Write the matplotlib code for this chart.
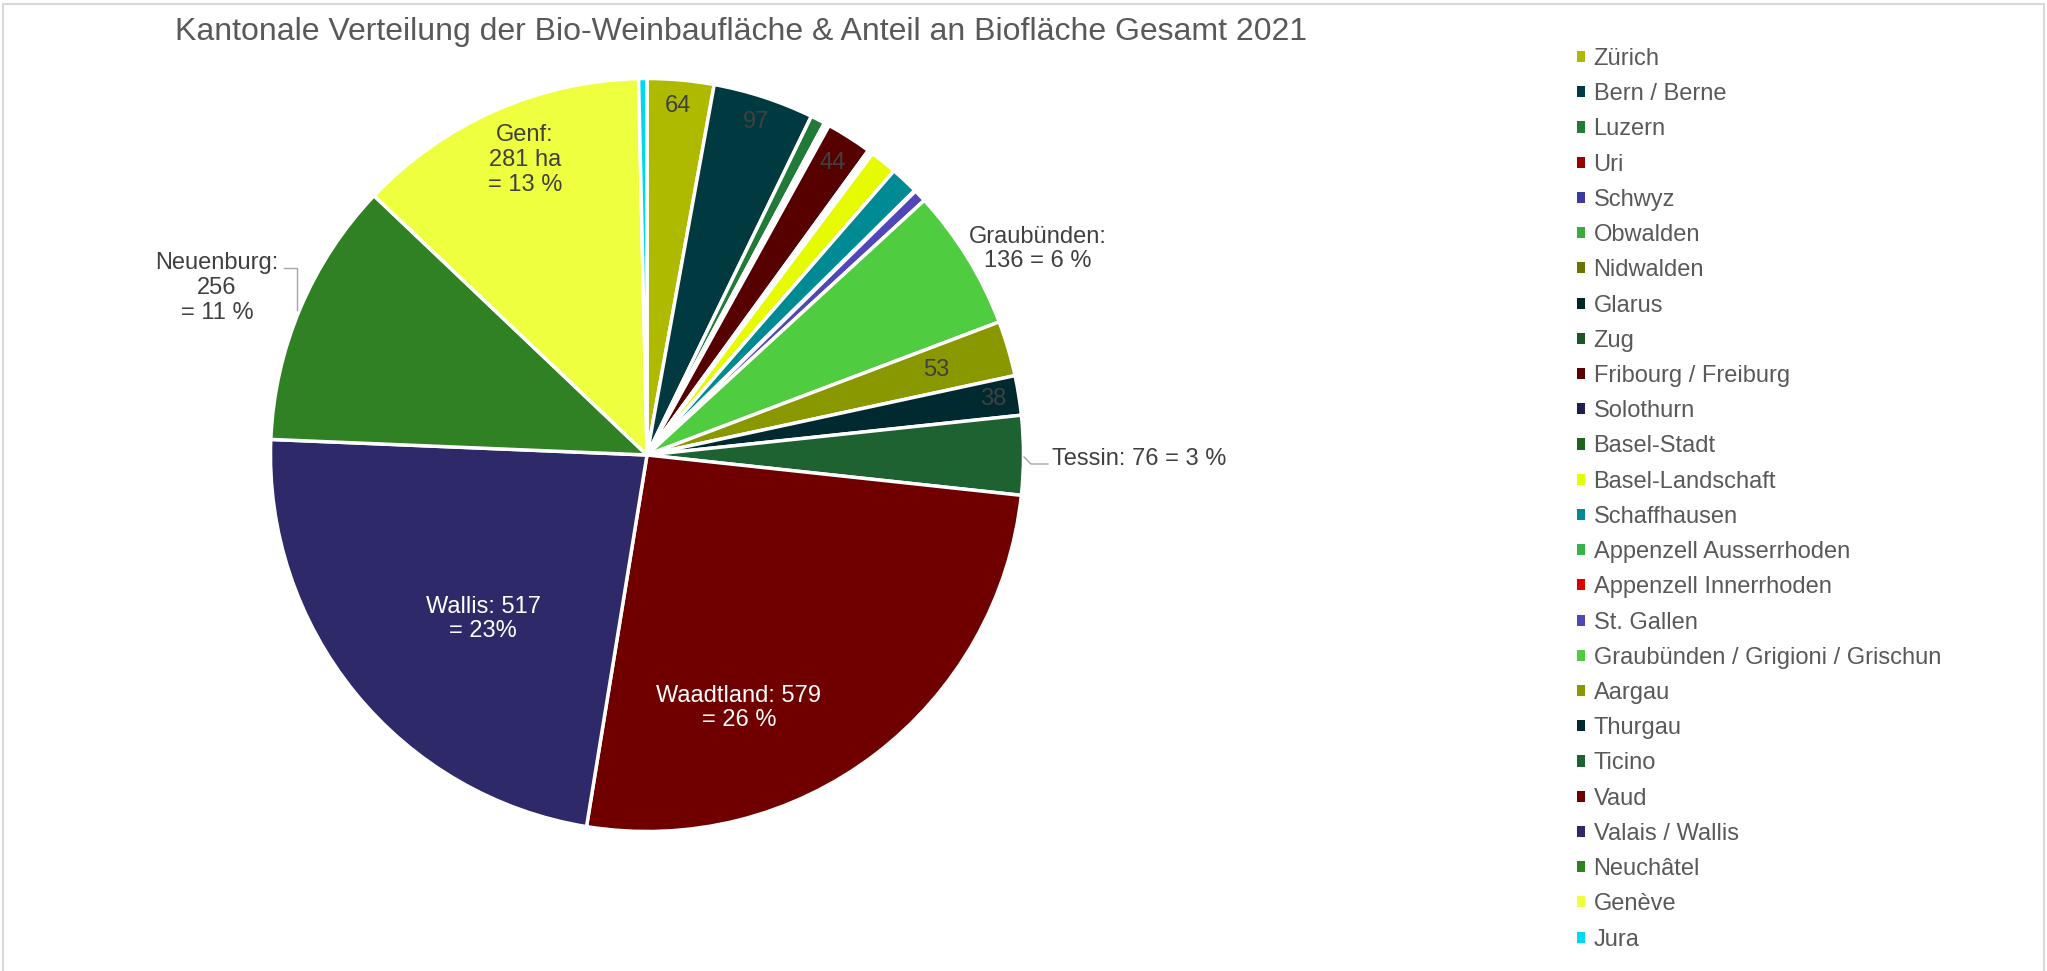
import numpy as np
import matplotlib.pyplot as plt
from matplotlib.patches import Patch, Rectangle

plt.rcParams['font.family'] = ['Liberation Sans', 'DejaVu Sans']

# Bio-Weinbaufläche pro Kanton 2021 (ha)
cantons = ["Zürich", "Bern / Berne", "Luzern", "Uri", "Schwyz", "Obwalden",
           "Nidwalden", "Glarus", "Zug", "Fribourg / Freiburg", "Solothurn",
           "Basel-Stadt", "Basel-Landschaft", "Schaffhausen",
           "Appenzell Ausserrhoden", "Appenzell Innerrhoden", "St. Gallen",
           "Graubünden / Grigioni / Grischun", "Aargau", "Thurgau", "Ticino",
           "Vaud", "Valais / Wallis", "Neuchâtel", "Genève", "Jura"]
hectares = [64, 97, 14, 0, 3, 0, 0, 1, 1, 44, 2, 3, 26, 27, 1, 0, 12,
            136, 53, 38, 76, 579, 517, 256, 281, 8]
colors = ["#AEBA00", "#003A40", "#217A38", "#9A0000", "#3E3A9A", "#3DAA3D",
          "#6A7500", "#00262B", "#1B5627", "#560000", "#201D50", "#1D631D",
          "#E6FA00", "#008A93", "#36B24A", "#E00000", "#5046B8", "#4FCC3F",
          "#8A9800", "#002A30", "#1E6231", "#700000", "#2E2968", "#2F8123",
          "#EEFF3F", "#00D8F0"]

title = "Kantonale Verteilung der Bio-Weinbaufläche & Anteil an Biofläche Gesamt 2021"

W, H = 2047, 971
cx, cy, R = 647, 455, 376.5


def px(x, y):
    # pixel position (from top-left) -> pie data units
    return (x - cx) / R, (cy - y) / R


fig = plt.figure(figsize=(W / 100, H / 100), dpi=100)
ax = fig.add_axes([0, 0, 1, 1])
wedges, _ = ax.pie(hectares, colors=colors, startangle=90, counterclock=False,
                   radius=1.0,
                   wedgeprops=dict(edgecolor='white', linewidth=2.5,
                                   joinstyle='round'))
ax.set_aspect('auto')
ax.set_xlim(-cx / R, (W - cx) / R)
ax.set_ylim(-(H - cy) / R, cy / R)
ax.axis('off')

# small value labels inside the slices
for idx, r in [(0, 0.93), (1, 0.93), (9, 0.92), (18, 0.80), (19, 0.93)]:
    w = wedges[idx]
    a = np.deg2rad((w.theta1 + w.theta2) / 2)
    ax.text(r * np.cos(a), r * np.sin(a), str(hectares[idx]), ha='center',
            va='center', fontsize=17, color='#404040')

lab = dict(fontsize=17, ha='center', va='center', linespacing=1.15)
ax.text(*px(525, 160), "Genf:\n281 ha\n= 13 %", color='#404040', **lab)
ax.text(*px(217, 288), "Neuenburg:\n256\n= 11 %", color='#404040', **lab)
ax.text(*px(1038, 249), "Graubünden:\n136 = 6 %", color='#404040', **lab)
ax.text(*px(483, 619), "Wallis: 517\n= 23%", color='white', **lab)
ax.text(*px(739, 708), "Waadtland: 579\n= 26 %", color='white', **lab)
ax.text(*px(1052, 459), "Tessin: 76 = 3 %", color='#404040', fontsize=17,
        ha='left', va='center')

# leader lines
nx, ny = zip(px(284, 268), px(297, 268), px(297, 310))
ax.plot(nx, ny, color='#A6A6A6', lw=1)
tx, ty = zip(px(1024, 457), px(1031, 464), px(1048, 464))
ax.plot(tx, ty, color='#A6A6A6', lw=1)

fig.text(741 / W, 1 - 32 / H, title, ha='center', va='center', fontsize=23,
         color='#595959')

handles = [Patch(facecolor=c, edgecolor='none') for c in colors]
fig.legend(handles, cantons, loc='upper left',
           bbox_to_anchor=(1577 / W, 1 - 48 / H), frameon=False, fontsize=17,
           handlelength=0.35, handleheight=0.35, handletextpad=0.35,
           labelspacing=0.56, borderpad=0, borderaxespad=0,
           labelcolor='#595959')

# chart border
fig.add_artist(Rectangle((3 / W, -0.05), 2041 / W, 1.05 - 4 / H, fill=False,
                         edgecolor='#D9D9D9', lw=1.5,
                         transform=fig.transFigure))

fig.savefig("out.png", dpi=100)
